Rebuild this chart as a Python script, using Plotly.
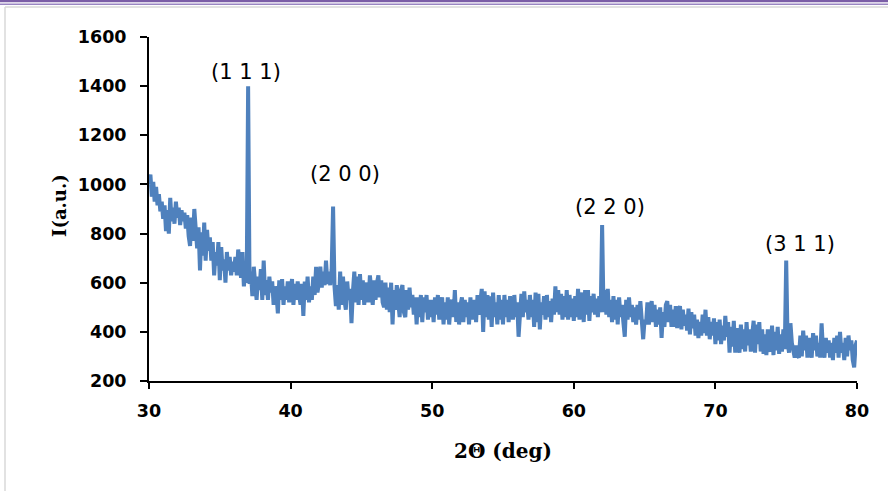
import numpy as np
import plotly.graph_objects as go

# XRD scan: 2-theta from 30 to 80 deg, sampled every 0.1 deg
start_angle = 30.0
step_angle = 0.1

# intensity readings, one row of ten samples per degree
i30 = [1000, 1040, 950, 1010, 930, 990, 915, 960, 890, 930]
i31 = [860, 915, 810, 895, 800, 945, 850, 905, 840, 930]
i32 = [865, 905, 835, 895, 850, 885, 820, 875, 790, 750]
i33 = [865, 770, 900, 790, 740, 825, 650, 805, 710, 845]
i34 = [690, 815, 730, 785, 690, 765, 630, 725, 670, 765]
i35 = [610, 745, 650, 695, 600, 725, 650, 705, 630, 685]
i36 = [645, 705, 630, 735, 650, 620, 725, 585, 640, 600]
i37 = [1400, 595, 645, 545, 665, 580, 530, 625, 570, 655]
i38 = [530, 690, 550, 610, 530, 625, 560, 605, 510, 585]
i39 = [555, 475, 610, 530, 615, 510, 585, 530, 605, 520]
i40 = [560, 615, 510, 595, 530, 605, 550, 510, 595, 465]
i41 = [605, 530, 625, 520, 585, 530, 625, 550, 665, 560]
i42 = [600, 665, 580, 645, 590, 690, 595, 645, 590, 655]
i43 = [910, 585, 505, 590, 490, 645, 510, 625, 530, 490]
i44 = [605, 530, 575, 435, 565, 645, 520, 625, 510, 635]
i45 = [530, 610, 510, 580, 600, 520, 630, 560, 510, 610]
i46 = [530, 600, 630, 540, 610, 520, 500, 600, 490, 580]
i47 = [480, 600, 430, 570, 490, 590, 510, 460, 570, 590]
i48 = [480, 460, 570, 490, 580, 500, 550, 470, 540, 430]
i49 = [540, 460, 550, 440, 540, 480, 550, 450, 530, 460]
i50 = [530, 440, 540, 470, 550, 450, 510, 540, 430, 520]
i51 = [450, 540, 430, 510, 530, 460, 570, 440, 520, 430]
i52 = [510, 540, 440, 530, 460, 520, 430, 540, 450, 510]
i53 = [530, 440, 550, 470, 520, 575, 400, 565, 460, 550]
i54 = [450, 545, 420, 560, 460, 520, 430, 550, 450, 530]
i55 = [430, 550, 460, 530, 440, 545, 490, 450, 550, 460]
i56 = [520, 380, 470, 555, 460, 565, 480, 530, 450, 550]
i57 = [460, 530, 420, 560, 440, 555, 410, 520, 470, 545]
i58 = [450, 550, 460, 525, 440, 535, 470, 585, 480, 570]
i59 = [470, 555, 450, 545, 460, 570, 450, 550, 460, 535]
i60 = [445, 545, 460, 575, 450, 535, 560, 440, 570, 470]
i61 = [570, 445, 545, 480, 555, 470, 535, 460, 545, 480]
i62 = [835, 480, 570, 470, 575, 460, 530, 440, 545, 450]
i63 = [530, 430, 540, 460, 510, 440, 380, 530, 450, 540]
i64 = [460, 510, 440, 500, 430, 510, 450, 525, 440, 370]
i65 = [450, 430, 520, 430, 490, 525, 440, 510, 420, 490]
i66 = [430, 500, 375, 480, 420, 510, 525, 440, 510, 420]
i67 = [490, 420, 505, 415, 480, 505, 410, 490, 425, 470]
i68 = [405, 495, 390, 480, 415, 470, 385, 450, 375, 440]
i69 = [385, 470, 395, 490, 385, 460, 370, 440, 385, 455]
i70 = [350, 440, 365, 450, 350, 425, 365, 465, 380, 440]
i71 = [315, 420, 340, 445, 315, 415, 350, 315, 430, 330]
i72 = [410, 320, 440, 345, 410, 320, 390, 445, 315, 430]
i73 = [350, 440, 320, 410, 310, 390, 305, 410, 335, 320]
i74 = [425, 305, 400, 325, 420, 310, 390, 320, 410, 330]
i75 = [690, 355, 315, 435, 355, 325, 295, 345, 305, 295]
i76 = [385, 300, 405, 325, 385, 295, 375, 335, 295, 395]
i77 = [325, 385, 300, 355, 295, 435, 325, 295, 375, 315]
i78 = [365, 295, 355, 285, 375, 315, 385, 295, 400, 315]
i79 = [355, 285, 375, 300, 385, 325, 365, 285, 255, 345]
i80 = [365]

intensity = (i30 + i31 + i32 + i33 + i34 + i35 + i36 + i37 + i38 + i39
             + i40 + i41 + i42 + i43 + i44 + i45 + i46 + i47 + i48 + i49
             + i50 + i51 + i52 + i53 + i54 + i55 + i56 + i57 + i58 + i59
             + i60 + i61 + i62 + i63 + i64 + i65 + i66 + i67 + i68 + i69
             + i70 + i71 + i72 + i73 + i74 + i75 + i76 + i77 + i78 + i79
             + i80)
two_theta = np.round(start_angle + step_angle * np.arange(len(intensity)), 2)

# indexed reflections
peak_angles = [37.0, 43.0, 62.0, 75.0]
peak_labels = ["(1 1 1)", "(2 0 0)", "(2 2 0)", "(3 1 1)"]

x_ticks = [30, 40, 50, 60, 70, 80]
y_ticks = [200, 400, 600, 800, 1000, 1200, 1400, 1600]

W, H = 888, 491
ML, MR, MT, MB = 149, 31, 37, 110
PW, PH = W - ML - MR, H - MT - MB

def px(xp):
    return (xp - ML) / PW

def py(yp):
    return (H - MB - yp) / PH

fig = go.Figure()
fig.add_trace(go.Scatter(
    x=two_theta, y=intensity, mode="lines",
    line=dict(color="#4F81BD", width=4),
    showlegend=False, hoverinfo="skip",
))

# label each reflection just above its peak
label_offsets = [(-2, 14), (12, 33), (8, 18), (14, 17)]
for ang, lab, (dx, dy) in zip(peak_angles, peak_labels, label_offsets):
    k = int(np.argmin(np.abs(two_theta - ang)))
    fig.add_annotation(
        x=float(two_theta[k]), y=float(intensity[k]), text=lab,
        showarrow=False, xanchor="center", yanchor="middle",
        xshift=dx, yshift=dy,
        font=dict(family="DejaVu Sans", size=21, color="#000000"),
    )

# axis titles
fig.add_annotation(
    x=px(59), y=py(206), xref="paper", yref="paper",
    text="<b>I(a.u.)</b>", textangle=-90, showarrow=False,
    xanchor="center", yanchor="middle",
    font=dict(family="DejaVu Serif", size=18, color="#000000"),
)
fig.add_annotation(
    x=px(503), y=py(451), xref="paper", yref="paper",
    text="<b>2Θ (deg)</b>", showarrow=False,
    xanchor="center", yanchor="middle",
    font=dict(family="DejaVu Serif", size=20, color="#000000"),
)

# page frame: purple rules on top, light grey border
fig.add_shape(type="line", xref="paper", yref="paper",
              x0=px(0), x1=px(W), y0=py(1), y1=py(1),
              line=dict(color="#7B5EA7", width=2.5))
fig.add_shape(type="line", xref="paper", yref="paper",
              x0=px(0), x1=px(W), y0=py(4.3), y1=py(4.3),
              line=dict(color="#9A86C2", width=1.5))
fig.add_shape(type="line", xref="paper", yref="paper",
              x0=px(5), x1=px(W), y0=py(7), y1=py(7),
              line=dict(color="#D9D9D9", width=1.5))
fig.add_shape(type="line", xref="paper", yref="paper",
              x0=px(5), x1=px(5), y0=py(7), y1=py(H),
              line=dict(color="#D9D9D9", width=1.5))

axis_font = dict(family="DejaVu Sans", size=17.5, color="#000000")
fig.update_xaxes(
    range=[30, 80], tickvals=x_ticks, ticktext=[f"<b>{v}</b>" for v in x_ticks],
    showgrid=False, zeroline=False, showline=True, linecolor="#000000", linewidth=2,
    ticks="outside", ticklen=6, tickwidth=2, tickcolor="#000000",
    tickfont=axis_font, ticklabelstandoff=7,
)
fig.update_yaxes(
    range=[200, 1600], tickvals=y_ticks, ticktext=[f"<b>{v}</b>" for v in y_ticks],
    showgrid=False, zeroline=False, showline=True, linecolor="#000000", linewidth=2,
    ticks="outside", ticklen=7, tickwidth=2, tickcolor="#000000",
    tickfont=axis_font, ticklabelstandoff=10,
)
fig.update_layout(
    width=W, height=H,
    margin=dict(l=ML, r=MR, t=MT, b=MB, pad=0),
    paper_bgcolor="#FFFFFF", plot_bgcolor="#FFFFFF",
)
fig.write_html("out.html")
